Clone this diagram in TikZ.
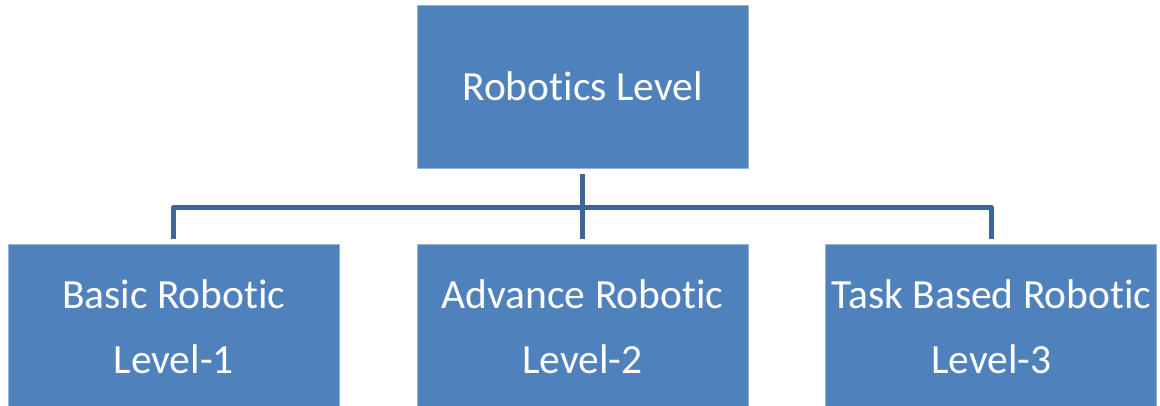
\documentclass[tikz,border=0pt]{standalone}
\usepackage{fontspec}
\setmainfont[Ligatures=NoCommon]{Carlito}
\usetikzlibrary{positioning}
\definecolor{boxblue}{RGB}{79,129,189}
\definecolor{boxedge}{RGB}{150,178,214}
\definecolor{linkblue}{RGB}{62,101,148}
\tikzstyle{level} = [rectangle, fill = boxblue, draw = boxedge, line width = 0.8pt, text = white, align = center, minimum width = 331pt, minimum height = 163pt, inner sep = 0pt, font = \fontsize{41.5}{65}\selectfont]
\tikzstyle{link} = [draw = linkblue, line width = 5pt, line join = round]

\begin{document}
\begin{tikzpicture}[node distance = 76pt and 77pt]
\path[use as bounding box, clip] (0,0) rectangle (1160pt,-405pt);

\node (robotics) [level] at (582.5pt,-86.5pt) {Robotics Level};
\node (advance) [level, below = of robotics] {Advance Robotic\\Level-2};
\node (basic) [level, left = of advance] {Basic Robotic\\Level-1};
\node (task) [level, right = of advance] {Task Based Robotic\\Level-3};

\draw [link] ([yshift=-6pt]robotics.south) -- ([yshift=5pt]advance.north);
\draw [link] ([yshift=5pt]basic.north) -- ++(0,32pt) -| ([yshift=5pt]task.north);
\end{tikzpicture}
\end{document}
